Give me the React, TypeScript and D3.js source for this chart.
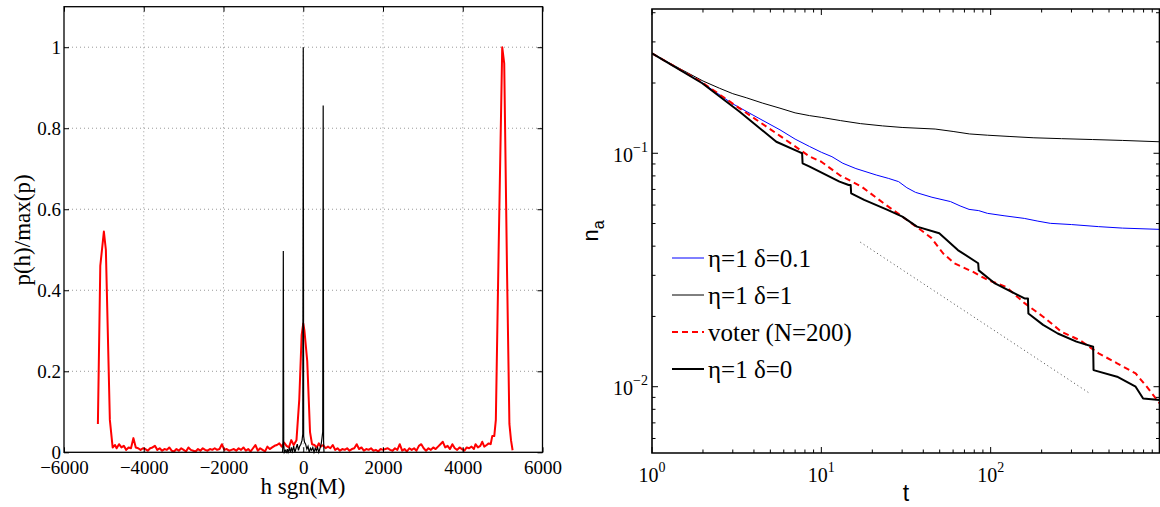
import { useEffect, useRef } from 'react';
import * as d3 from 'd3';

type Pt = [number, number];

// ---- left panel: normalised histogram p(h)/max(p) vs h sgn(M)
const histTicksX = [-6000, -4000, -2000, 0, 2000, 4000, 6000];
const histTicksY = [0, 0.2, 0.4, 0.6, 0.8, 1];

const redHist: Pt[] = [
  [-5150, 0.07], [-5090, 0.46], [-5000, 0.545], [-4950, 0.5], [-4850, 0.08], [-4780, 0.012],
  [-4720, 0.018], [-4680, 0.01], [-4620, 0.02], [-4560, 0.012], [-4500, 0.016], [-4440, 0.006],
  [-4380, 0.012], [-4320, 0.01], [-4260, 0.035], [-4200, 0.012], [-4140, 0.01], [-4080, 0.006],
  [-4020, 0.01], [-3960, 0.008], [-3900, 0.004], [-3840, 0.01], [-3780, 0.012], [-3720, 0.016],
  [-3660, 0.006], [-3600, 0.01], [-3540, 0.004], [-3480, 0.008], [-3420, 0.006], [-3360, 0.012],
  [-3300, 0.004], [-3240, 0.002], [-3180, 0.008], [-3120, 0.004], [-3060, 0.01], [-3000, 0.006],
  [-2940, 0.002], [-2880, 0.012], [-2820, 0.006], [-2760, 0.004], [-2700, 0.002], [-2640, 0.008],
  [-2580, 0.004], [-2520, 0.01], [-2460, 0.006], [-2400, 0.004], [-2340, 0.008], [-2280, 0.006],
  [-2220, 0.01], [-2160, 0.006], [-2100, 0.008], [-2040, 0.02], [-1980, 0.006], [-1920, 0.008],
  [-1860, 0.004], [-1800, 0.006], [-1740, 0.008], [-1680, 0.004], [-1620, 0.01], [-1560, 0.006],
  [-1500, 0.012], [-1440, 0.004], [-1380, 0.008], [-1320, 0.002], [-1260, 0.01], [-1200, 0.018],
  [-1140, 0.004], [-1080, 0.01], [-1020, 0.006], [-960, 0.002], [-900, 0.014], [-840, 0.008],
  [-780, 0.012], [-720, 0.016], [-660, 0.018], [-600, 0.022], [-540, 0.014], [-480, 0.024],
  [-420, 0.016], [-360, 0.012], [-300, 0.03], [-240, 0.018], [-170, 0.03], [-100, 0.13],
  [-40, 0.29], [0, 0.318], [30, 0.3], [100, 0.225], [170, 0.05], [220, 0.02], [280, 0.018],
  [340, 0.012], [390, 0.022], [440, 0.014], [500, 0.018], [560, 0.01], [620, 0.014], [680, 0.01],
  [740, 0.018], [800, 0.006], [860, 0.01], [920, 0.004], [980, 0.008], [1040, 0.006], [1100, 0.01],
  [1160, 0.004], [1220, 0.008], [1280, 0.01], [1340, 0.02], [1400, 0.008], [1460, 0.012],
  [1520, 0.004], [1580, 0.008], [1640, 0.006], [1700, 0.01], [1760, 0.004], [1820, 0.006],
  [1880, 0.002], [1940, 0.008], [2000, 0.006], [2060, 0.008], [2120, 0.01], [2180, 0.006],
  [2240, 0.004], [2300, 0.01], [2360, 0.006], [2420, 0.02], [2480, 0.004], [2540, 0.008],
  [2600, 0.002], [2660, 0.01], [2720, 0.006], [2780, 0.01], [2840, 0.004], [2900, 0.016],
  [2960, 0.02], [3020, 0.01], [3080, 0.004], [3140, 0.01], [3200, 0.006], [3260, 0.012],
  [3320, 0.008], [3380, 0.014], [3440, 0.02], [3500, 0.026], [3560, 0.012], [3620, 0.016],
  [3680, 0.008], [3740, 0.02], [3800, 0.01], [3860, 0.006], [3920, 0.012], [3980, 0.008],
  [4040, 0.004], [4100, 0.012], [4160, 0.01], [4220, 0.014], [4280, 0.008], [4320, 0.02],
  [4380, 0.012], [4440, 0.016], [4490, 0.026], [4540, 0.014], [4600, 0.018], [4650, 0.022],
  [4700, 0.02], [4740, 0.04], [4790, 0.04], [4830, 0.08], [4900, 0.5], [4990, 1.0],
  [5040, 0.96], [5110, 0.45], [5170, 0.07], [5210, 0.03], [5250, 0.005],
];

const blackHist: Pt[] = [
  [-520, 0.0], [-510, 0.02], [-500, 0.497], [-490, 0.02], [-475, 0.0], [-450, 0.005], [-420, 0.0],
  [-400, 0.008], [-380, 0.0], [-350, 0.01], [-320, 0.0], [-300, 0.012], [-270, 0.002], [-240, 0.015],
  [-210, 0.0], [-180, 0.01], [-150, 0.02], [-120, 0.005], [-90, 0.015], [-60, 0.02], [-30, 0.03],
  [-12, 0.045], [0, 1.0], [10, 0.04], [30, 0.025], [60, 0.02], [90, 0.008], [120, 0.015],
  [150, 0.0], [180, 0.01], [210, 0.005], [240, 0.012], [270, 0.0], [300, 0.01], [330, 0.004],
  [360, 0.012], [390, 0.0], [420, 0.01], [450, 0.02], [470, 0.035], [488, 0.05], [500, 0.856],
  [510, 0.03], [520, 0.0],
];

// ---- right panel: n_a(t), log-log
const decayLabelT = [1, 10, 100];
const decayLabelN = [0.01, 0.1];

const etaDelta01: Pt[] = [
  [1, 0.268], [2, 0.1995], [2.96, 0.1637], [4, 0.145], [5.7, 0.126], [7, 0.115], [8.5, 0.107],
  [10, 0.101], [11.55, 0.0967], [13.4, 0.0906], [16, 0.086], [21.1, 0.0807], [25, 0.078],
  [28.6, 0.0756], [32, 0.0712], [36, 0.068], [45, 0.0648], [57.9, 0.0621], [66, 0.0595],
  [74.5, 0.0575], [85, 0.0568], [95.7, 0.0553], [120, 0.054], [158, 0.0526], [190, 0.0512],
  [225, 0.0501], [300, 0.0495], [434, 0.0485], [600, 0.0478], [1000, 0.0472],
];

const etaDelta1: Pt[] = [
  [1, 0.268], [1.5, 0.228], [2, 0.204], [2.5, 0.19], [3, 0.18], [3.6, 0.173], [4.5, 0.164],
  [5.7, 0.156], [7, 0.149], [8.5, 0.145], [10, 0.1425], [13, 0.138], [17, 0.134], [23, 0.131],
  [30, 0.129], [47, 0.127], [60, 0.124], [75, 0.121], [96, 0.1195], [130, 0.118], [180, 0.1165],
  [262, 0.1155], [400, 0.1145], [600, 0.1135], [1000, 0.112],
];

const voter200: Pt[] = [
  [1, 0.268], [1.98, 0.201], [3.28, 0.156], [5.7, 0.1187], [8.5, 0.097], [10, 0.092],
  [12.8, 0.0807], [17.3, 0.0719], [23.4, 0.061], [30.1, 0.0535], [38.7, 0.0469], [44.6, 0.0434],
  [52.3, 0.0373], [60.9, 0.0338], [78.3, 0.0311], [95.7, 0.0287], [123, 0.0268], [158.5, 0.0228],
  [204, 0.01995], [262, 0.0172], [337, 0.0158], [434, 0.0139], [558, 0.0126], [718, 0.0114],
  [835, 0.01], [995, 0.00849],
];

const etaDelta0: Pt[] = [
  [1, 0.268], [1.98, 0.1995], [3.28, 0.151], [5.42, 0.112], [7.33, 0.1016], [7.7, 0.1],
  [7.75, 0.0906], [8.53, 0.0877], [12.8, 0.0756], [14.5, 0.0731], [14.9, 0.0731], [15, 0.0674],
  [17.9, 0.0631], [24.6, 0.0572], [30.1, 0.0535], [36.7, 0.0485], [49.7, 0.0454], [64, 0.0385],
  [84.4, 0.0338], [85, 0.0315], [106, 0.0277], [158.5, 0.0239], [166, 0.0239], [167, 0.0206],
  [204, 0.0184], [249, 0.0169], [321, 0.0156], [403, 0.01484], [405, 0.01178], [558, 0.01104],
  [718, 0.01], [795, 0.0089], [995, 0.00877],
];

const slopeGuide: Pt[] = [[17, 0.0416], [390, 0.0093]];

const legendLabels = ['η=1 δ=0.1', 'η=1 δ=1', 'voter (N=200)', 'η=1 δ=0'];

const SERIF = "'Liberation Serif', 'Times New Roman', Times, 'DejaVu Serif', serif";
const SANS = "'Liberation Sans', Arial, Helvetica, sans-serif";

const seriesStyle = [
  { color: '#0000ff', width: 1, dash: null as string | null },
  { color: '#000000', width: 1, dash: null as string | null },
  { color: '#ff0000', width: 2, dash: '6,4' },
  { color: '#000000', width: 2, dash: null as string | null },
];

function drawHist(svg: d3.Selection<SVGSVGElement, unknown, null, undefined>) {
  const x = d3.scaleLinear().domain([-6000, 6000]).range([64, 542.5]);
  const y = d3.scaleLinear().domain([0, 1.1]).range([452.3, 6.7]);
  const g = svg.append('g');

  // dotted grid
  g.selectAll('.gx')
    .data(histTicksX.slice(1, -1))
    .join('line')
    .attr('x1', (d) => x(d)).attr('x2', (d) => x(d))
    .attr('y1', y(0)).attr('y2', y(1.1))
    .attr('stroke', '#999').attr('stroke-dasharray', '1,3');
  g.selectAll('.gy')
    .data(histTicksY.slice(1))
    .join('line')
    .attr('x1', x(-6000)).attr('x2', x(6000))
    .attr('y1', (d) => y(d)).attr('y2', (d) => y(d))
    .attr('stroke', '#999').attr('stroke-dasharray', '1,3');

  const line = d3.line<Pt>().x((d) => x(d[0])).y((d) => y(d[1]));
  g.append('path').datum(redHist).attr('d', line)
    .attr('fill', 'none').attr('stroke', '#ff0000').attr('stroke-width', 2).attr('stroke-linejoin', 'round');
  g.append('path').datum(blackHist).attr('d', line)
    .attr('fill', 'none').attr('stroke', '#000').attr('stroke-width', 1.2);

  // axes, ticks pointing inwards
  const bottom = g.append('g').attr('transform', `translate(0,${y(0)})`)
    .call(d3.axisBottom(x).tickValues(histTicksX).tickSize(-5).tickPadding(8.5).tickFormat(d3.format('d')));
  const left = g.append('g').attr('transform', `translate(${x(-6000)},0)`)
    .call(d3.axisLeft(y).tickValues(histTicksY).tickSize(-5).tickPadding(3).tickFormat(d3.format('~g')));
  g.append('g').attr('transform', `translate(0,${y(1.1)})`)
    .call(d3.axisTop(x).tickValues(histTicksX).tickSize(-5).tickFormat(() => ''));
  g.append('g').attr('transform', `translate(${x(6000)},0)`)
    .call(d3.axisRight(y).tickValues(histTicksY).tickSize(-5).tickFormat(() => ''));
  g.selectAll('.domain').remove();
  g.selectAll('.tick line').attr('stroke', '#000');
  [bottom, left].forEach((a) =>
    a.attr('font-family', null).attr('font-size', null)
      .selectAll('text').attr('fill', '#000').style('font-family', SERIF).style('font-size', '19px'));

  g.append('rect')
    .attr('x', x(-6000)).attr('y', y(1.1))
    .attr('width', x(6000) - x(-6000)).attr('height', y(0) - y(1.1))
    .attr('fill', 'none').attr('stroke', '#000').attr('stroke-width', 1.3);

  g.append('text').attr('x', 303).attr('y', 494)
    .attr('text-anchor', 'middle').style('font-family', SERIF).style('font-size', '23px')
    .text('h sgn(M)');
  g.append('text').attr('transform', 'translate(30,230) rotate(-90)')
    .attr('text-anchor', 'middle').style('font-family', SERIF).style('font-size', '23px')
    .text('p(h)/max(p)');
}

function drawDecay(svg: d3.Selection<SVGSVGElement, unknown, null, undefined>) {
  const x = d3.scaleLog().domain([1, 1000]).range([652, 1160]);
  const y = d3.scaleLog().domain([0.0052, 0.415]).range([453, 9]);
  const [x0, x1] = x.range();
  const [y1, y0] = y.range();
  const g = svg.append('g');

  svg.append('defs').append('clipPath').attr('id', 'decay-clip')
    .append('rect').attr('x', x0).attr('y', y0).attr('width', x1 - x0).attr('height', y1 - y0);

  const plot = g.append('g').attr('clip-path', 'url(#decay-clip)');
  const line = d3.line<Pt>().x((d) => x(d[0])).y((d) => y(d[1]));

  plot.append('path').datum(slopeGuide).attr('d', line)
    .attr('fill', 'none').attr('stroke', '#444').attr('stroke-width', 1).attr('stroke-dasharray', '1,3');

  [etaDelta01, etaDelta1, voter200, etaDelta0].forEach((s, i) => {
    const st = seriesStyle[i];
    plot.append('path').datum(s).attr('d', line)
      .attr('fill', 'none').attr('stroke', st.color).attr('stroke-width', st.width)
      .attr('stroke-dasharray', st.dash).attr('stroke-linejoin', 'round');
  });

  // ticks on all four sides, inward
  const isMajor = (v: number) => Math.abs(Math.log10(v) - Math.round(Math.log10(v))) < 1e-6;
  const tx = x.ticks().filter((v) => v < 1000);
  const ty = y.ticks();
  const tl = (v: number) => (isMajor(v) ? 6 : 3.5);
  g.selectAll('.txb').data(tx).join('line')
    .attr('x1', (d) => x(d)).attr('x2', (d) => x(d)).attr('y1', y1).attr('y2', (d) => y1 - tl(d))
    .attr('stroke', '#000');
  g.selectAll('.txt').data(tx).join('line')
    .attr('x1', (d) => x(d)).attr('x2', (d) => x(d)).attr('y1', y0).attr('y2', (d) => y0 + tl(d))
    .attr('stroke', '#000');
  g.selectAll('.tyl').data(ty).join('line')
    .attr('x1', x0).attr('x2', (d) => x0 + tl(d)).attr('y1', (d) => y(d)).attr('y2', (d) => y(d))
    .attr('stroke', '#000');
  g.selectAll('.tyr').data(ty).join('line')
    .attr('x1', x1 - 0.5).attr('x2', (d) => x1 - 0.5 - tl(d)).attr('y1', (d) => y(d)).attr('y2', (d) => y(d))
    .attr('stroke', '#000');

  g.append('path')
    .attr('d', `M${x0},${y0}H${x1 - 0.5}V${y1}H${x0}Z`)
    .attr('fill', 'none').attr('stroke', '#000').attr('stroke-width', 1.6);

  // tick labels 10^k
  const xl = g.selectAll('.xl').data(decayLabelT).join('text')
    .attr('x', (d) => x(d)).attr('y', 482)
    .attr('text-anchor', 'middle').style('font-family', SERIF).style('font-size', '20px');
  xl.append('tspan').text('10');
  xl.append('tspan').attr('dy', -10).style('font-size', '14px').text((d) => String(Math.round(Math.log10(d))));

  const yl = g.selectAll('.yl').data(decayLabelN).join('text')
    .attr('x', 648).attr('y', (d) => y(d) + 8.5)
    .attr('text-anchor', 'end').style('font-family', SERIF).style('font-size', '20px');
  yl.append('tspan').text('10');
  yl.append('tspan').attr('dy', -10).style('font-size', '14px')
    .text((d) => '\u2212' + String(Math.abs(Math.round(Math.log10(d)))));

  // legend
  const lg = g.append('g');
  const ly = [258, 295, 332, 369];
  legendLabels.forEach((label, i) => {
    const st = seriesStyle[i];
    lg.append('line').attr('x1', 672).attr('x2', 704).attr('y1', ly[i]).attr('y2', ly[i])
      .attr('stroke', st.color).attr('stroke-width', st.width).attr('stroke-dasharray', st.dash);
    lg.append('text').attr('x', 708).attr('y', ly[i]).attr('dy', '0.34em')
      .style('font-family', SERIF).style('font-size', '25px').text(label);
  });

  // axis labels
  g.append('text').attr('x', (x0 + x1) / 2).attr('y', 501)
    .attr('text-anchor', 'middle').style('font-family', SANS).style('font-size', '23px').text('t');
  const na = g.append('text').attr('transform', 'translate(598,231) rotate(-90)')
    .attr('text-anchor', 'middle').style('font-family', SANS).style('font-size', '22px');
  na.append('tspan').text('n');
  na.append('tspan').attr('dy', 6).style('font-size', '16px').text('a');
}

export default function App() {
  const svgRef = useRef<SVGSVGElement>(null);

  useEffect(() => {
    if (!svgRef.current) return;
    document.body.style.margin = '0';
    const svg = d3.select(svgRef.current);
    svg.selectAll('*').remove();
    drawHist(svg);
    drawDecay(svg);
  }, []);

  return (
    <svg
      ref={svgRef}
      width={1160}
      height={507}
      style={{ display: 'block', position: 'absolute', left: 0, top: 0, background: '#fff' }}
    />
  );
}
